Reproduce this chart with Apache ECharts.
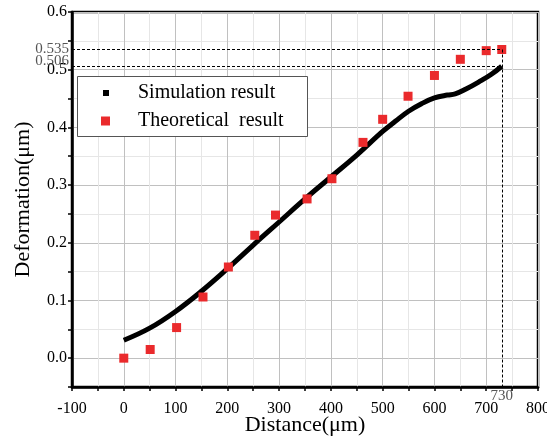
<!DOCTYPE html>
<html>
<head>
<meta charset="utf-8">
<script src="https://cdn.jsdelivr.net/npm/echarts@6/dist/echarts.min.js"></script>
<style>html,body{margin:0;padding:0;background:#fff;}#c{width:547px;height:438px;}</style>
</head>
<body>
<div id="c"></div>
<script>
// Simulation result (x in µm, deformation in µm)
const simX = [0, 50, 100, 150, 200, 250, 300, 350, 400, 450, 500, 525, 550, 575, 600, 625, 640, 660, 690, 710, 730];
const simY = [0.031, 0.052, 0.081, 0.116, 0.155, 0.196, 0.236, 0.276, 0.314, 0.352, 0.393, 0.411, 0.428, 0.441, 0.451, 0.456, 0.458, 0.466, 0.481, 0.492, 0.506];
// Theoretical result
const theoX = [0, 51, 102, 153, 202, 253, 293, 354, 402, 462, 500, 549, 600, 650, 700, 730];
const theoY = [0, 0.015, 0.053, 0.106, 0.158, 0.213, 0.248, 0.276, 0.311, 0.374, 0.414, 0.454, 0.490, 0.518, 0.533, 0.535];
// Reference annotations
const refX = 730;
const refY1 = 0.535;
const refY2 = 0.506;
const seriesNames = ['Simulation result', 'Theoretical  result'];

const FONT = '"Liberation Serif", "DejaVu Serif", serif';
const chart = echarts.init(document.getElementById('c'), null, {renderer: 'canvas'});

const simData = simX.map((x, i) => [x, simY[i]]);
const theoData = theoX.map((x, i) => [x, theoY[i]]);
const dash = {type: [3, 2], color: '#000', width: 1};
const annLabel = {color: '#555', fontFamily: FONT, fontSize: 15};

chart.setOption({
  animation: false,
  backgroundColor: '#fff',
  grid: {left: 72, right: 9, top: 12, bottom: 51, containLabel: false, outerBoundsMode: 'none',
         show: true, borderColor: '#000', borderWidth: 2.5, backgroundColor: 'transparent'},
  xAxis: {
    type: 'value', min: -100, max: 800, interval: 50,
    name: 'Distance(μm)', nameLocation: 'middle', nameGap: 27, nameMoveOverlap: false,
    nameTextStyle: {fontFamily: FONT, fontSize: 22, color: '#000'},
    axisLine: {show: true, onZero: false, lineStyle: {color: '#000', width: 2.5}},
    axisTick: {show: true, inside: false, length: 4, lineStyle: {color: '#000', width: 1.5}},
    axisLabel: {fontFamily: FONT, fontSize: 16, color: '#000', margin: 14,
      formatter: v => (Math.round(v) % 100 === 0 ? String(v) : '')},
    splitLine: {show: true, lineStyle: {color: ['#c0c0c0', '#e6e6e6'], width: 1}}
  },
  yAxis: {
    type: 'value', min: -0.05, max: 0.6, interval: 0.05,
    name: 'Deformation(μm)', nameLocation: 'middle', nameGap: 38, nameMoveOverlap: false,
    nameTextStyle: {fontFamily: FONT, fontSize: 22, color: '#000'},
    axisLine: {show: true, onZero: false, lineStyle: {color: '#000', width: 2.5}},
    axisTick: {show: true, inside: false, length: 4, lineStyle: {color: '#000', width: 1.5}},
    axisLabel: {fontFamily: FONT, fontSize: 16, color: '#000', margin: 5,
      formatter: v => (Math.abs(Math.round(v * 100)) % 10 === 0 ? v.toFixed(1) : '')},
    splitLine: {show: true, lineStyle: {color: ['#e6e6e6', '#c0c0c0'], width: 1}}
  },
  legend: [
    {data: [{name: seriesNames[0], icon: 'rect'}], left: 103, top: 82, padding: 0,
     itemWidth: 6, itemHeight: 6, z: 10,
     textStyle: {fontFamily: FONT, fontSize: 20, color: '#000', lineHeight: 22, padding: [0, 0, 0, 24]}},
    {data: [{name: seriesNames[1], icon: 'rect'}], left: 101, top: 110, padding: 0,
     itemWidth: 9, itemHeight: 9, z: 10,
     textStyle: {fontFamily: FONT, fontSize: 20, color: '#000', lineHeight: 22, padding: [0, 0, 0, 23]}}
  ],
  graphic: [{
    type: 'rect', left: 77, top: 76, z: 5,
    shape: {width: 230, height: 60},
    style: {fill: '#fff', stroke: '#555', lineWidth: 1}
  }],
  series: [
    {
      name: seriesNames[0], type: 'line', data: simData, smooth: 0.4,
      showSymbol: false, symbol: 'rect', symbolSize: 6,
      itemStyle: {color: '#000'},
      lineStyle: {color: '#000', width: 5}, z: 3
    },
    {
      name: seriesNames[1], type: 'scatter', data: theoData,
      symbol: 'rect', symbolSize: 9, itemStyle: {color: '#ea2a2c', opacity: 1}, z: 4,
      markLine: {
        silent: true, symbol: 'none', animation: false,
        lineStyle: dash,
        data: [
          [{coord: [-100, refY1], label: Object.assign({formatter: '0.535', position: 'start', distance: 3}, annLabel)}, {coord: [refX, refY1]}],
          [{coord: [-100, refY2], label: Object.assign({formatter: '0.506\n', position: 'start', distance: 3, lineHeight: 11}, annLabel)}, {coord: [refX, refY2]}],
          [{coord: [refX, refY1], label: Object.assign({formatter: '730', position: 'end', distance: 2}, annLabel)}, {coord: [refX, -0.05]}]
        ]
      }
    }
  ]
});
</script>
</body>
</html>
